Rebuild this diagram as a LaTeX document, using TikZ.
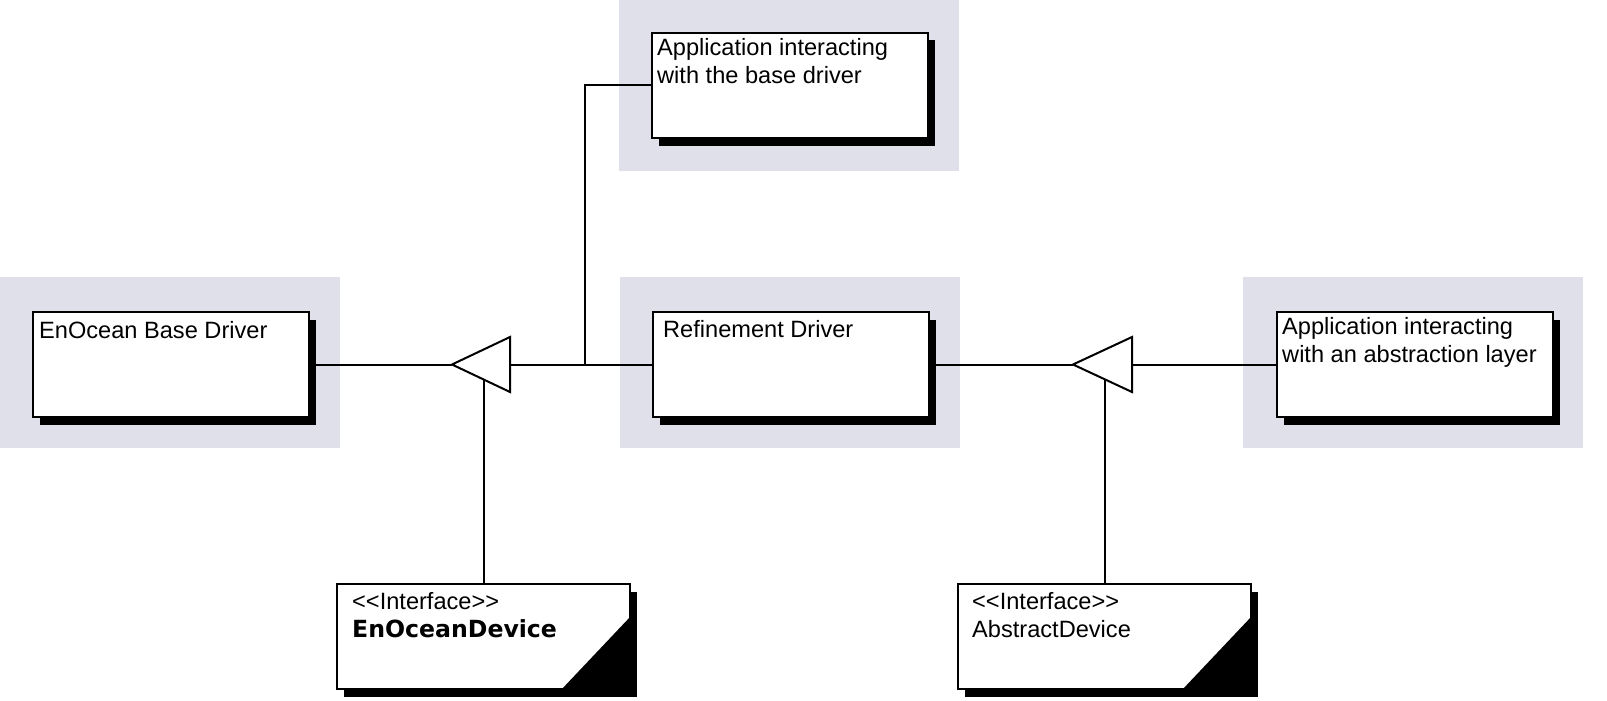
\documentclass[tikz,border=0pt]{standalone}
\usepackage{fontspec}
\setmainfont{Liberation Sans}
\newfontfamily\dejavu{DejaVu Sans}
\usetikzlibrary{shadows}
\definecolor{zonecol}{RGB}{224,224,235}
\begin{document}
\begin{tikzpicture}[x=1pt,y=-1pt,
  font=\fontsize{23.6}{28}\selectfont,
  shadowed/.style={drop shadow={shadow xshift=6.5pt, shadow yshift=-7.5pt, fill=black, opacity=1}},
  box/.style={draw, fill=white, line width=2pt, minimum width=276pt, minimum height=105pt, inner sep=0pt, anchor=north west, shadowed},
  iface/.style={draw, fill=white, line width=2pt, minimum width=293pt, minimum height=105pt, inner sep=0pt, anchor=north west, shadowed},
  txt/.style={anchor=base west, inner sep=0pt},
  conn/.style={line width=2pt},
  tri/.style={draw, fill=white, line width=2pt, line join=miter}
]
\useasboundingbox (0,0) rectangle (1607,701);
% zones
\fill[zonecol] (619,0) rectangle (959,171);
\fill[zonecol] (0,277) rectangle (340,448);
\fill[zonecol] (620,277) rectangle (960,448);
\fill[zonecol] (1243,277) rectangle (1583,448);
% junction coordinates
\coordinate (t1tip) at (452,364.5);
\coordinate (t1base) at (510,364.5);
\coordinate (t2tip) at (1073,364.5);
\coordinate (t2base) at (1132,364.5);
\coordinate (j1) at (585,364.5);
% boxes
\node[box] (app1) at (651,32) {};
\node[box] (base) at (32,311) {};
\node[box] (refine) at (652,311) {};
\node[box] (app2) at (1276,311) {};
\node[iface] (dev1) at (336,583) {};
\node[iface] (dev2) at (957,583) {};
\fill (dev1.south east) -- ++(-70,0) -- ++(70,-74) -- cycle;
\fill (dev2.south east) -- ++(-70,0) -- ++(70,-74) -- cycle;
% connectors
\draw[conn] (base.east |- t1tip) -- (t1tip);
\draw[conn] (t1base) -- (refine.west |- t1base);
\draw[conn] (app1.west) -| (j1);
\draw[conn] (dev1.north) -- (dev1.north |- t1tip);
\draw[conn] (refine.east |- t2tip) -- (t2tip);
\draw[conn] (t2base) -- (app2.west |- t2base);
\draw[conn] (dev2.north) -- (dev2.north |- t2tip);
% triangles
\draw[tri] (t1tip) -- ([yshift=27.5pt]t1base) -- ([yshift=-27.5pt]t1base) -- cycle;
\draw[tri] (t2tip) -- ([yshift=27.5pt]t2base) -- ([yshift=-27.5pt]t2base) -- cycle;
% texts
\node[txt] (app1t) at (657,56) {\begin{tabular}[t]{@{}l@{}}Application interacting\\with the base driver\end{tabular}};
\node[txt] (baset) at (39,338) {EnOcean Base Driver};
\node[txt] (refinet) at (663,337) {Refinement Driver};
\node[txt] (app2t) at (1282,334) {\begin{tabular}[t]{@{}l@{}}Application interacting\\with an abstraction layer\end{tabular}};
\node[txt] (dev1t) at (352,609) {\begin{tabular}[t]{@{}l@{}}{<}{<}Interface{>}{>}\\{\dejavu\bfseries EnOceanDevice}\end{tabular}};
\node[txt] (dev2t) at (972,609) {\begin{tabular}[t]{@{}l@{}}{<}{<}Interface{>}{>}\\AbstractDevice\end{tabular}};
\end{tikzpicture}
\end{document}
